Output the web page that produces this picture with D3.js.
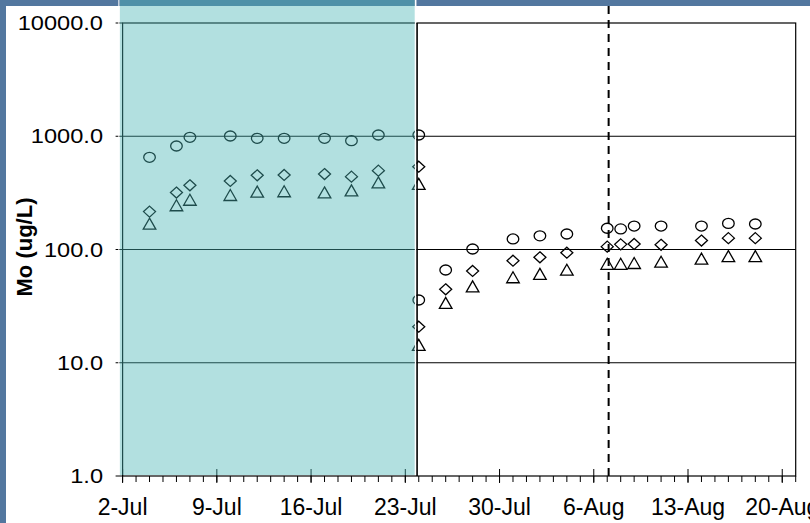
<!DOCTYPE html>
<html>
<head>
  <meta charset="utf-8">
  <title>Mo (ug/L)</title>
  <style type="text/css">
    body { margin: 0; }
    svg { display: block; font-family: "Liberation Sans", Arial, sans-serif; }
  </style>
</head>
<body>
  <svg width="810" height="523"></svg>
  <script src="https://d3js.org/d3.v7.min.js"></script>
  <script>
  // 1. data
  let dates = ["2007-07-04", "2007-07-06", "2007-07-07", "2007-07-10", "2007-07-12", "2007-07-14",
               "2007-07-17", "2007-07-19", "2007-07-21", "2007-07-24", "2007-07-24", "2007-07-26",
               "2007-07-28", "2007-07-31", "2007-08-02", "2007-08-04", "2007-08-07", "2007-08-08",
               "2007-08-09", "2007-08-11", "2007-08-14", "2007-08-16", "2007-08-18"];
  let circleVals   = [652, 820, 979, 1005, 959, 959, 959, 914, 1026, 1026, 35.8, 65.9,
                      101, 124, 132, 137, 154, 152, 161, 161, 161, 170, 168];
  let diamondVals  = [216, 318, 369, 403, 452, 455, 464, 440, 497, 539, 20.8, 44.5,
                      64.6, 79.6, 85.3, 93.7, 106, 111, 112, 110, 120, 126, 126];
  let triangleVals = [169, 246, 275, 303, 324, 327, 319, 333, 391, 380, 14.4, 33.8,
                      47.3, 56.9, 61, 66.3, 74.8, 74.8, 76, 78, 83, 87.3, 87.3];

  let yTicks = [1, 10, 100, 1000, 10000];
  let xLabels = ["2007-07-02", "2007-07-09", "2007-07-16", "2007-07-23", "2007-07-30",
                 "2007-08-06", "2007-08-13", "2007-08-20"];
  let xStart = "2007-07-02", xEnd = "2007-08-21";
  let shadeFrom = "2007-07-01T19:00", shadeTo = "2007-07-23T17:00";
  let splitDate = "2007-07-23T21:00";
  let dashDate = "2007-08-07T02:30";

  let parse = d3.isoParse;
  let svg = d3.select("svg");

  // 2. scales
  let x = d3.scaleTime().domain([parse(xStart), parse(xEnd)]).range([122.6, 795.7]);
  let y = d3.scaleLog().domain([1, 10000]).range([476, 23]);

  // background (slide) + white panel
  svg.append("rect").attr("width", 810).attr("height", 523).attr("fill", "#53779f");
  svg.append("rect").attr("x", 6).attr("y", 6).attr("width", 804).attr("height", 517).attr("fill", "#fff");

  // gridlines
  svg.append("g").selectAll("line").data(yTicks.slice(1, 4)).enter().append("line")
    .attr("x1", x.range()[0]).attr("x2", x.range()[1])
    .attr("y1", d => y(d)).attr("y2", d => y(d))
    .attr("stroke", "#000").attr("stroke-width", 1);

  // frame
  svg.append("rect")
    .attr("x", x.range()[0]).attr("y", y(10000))
    .attr("width", x.range()[1] - x.range()[0]).attr("height", y(1) - y(10000))
    .attr("fill", "none").attr("stroke", "#000").attr("stroke-width", 1.2);

  // y axis ticks + labels
  let yg = svg.append("g");
  yg.selectAll("line").data(yTicks).enter().append("line")
    .attr("x1", x.range()[0] - 7).attr("x2", x.range()[0])
    .attr("y1", d => y(d)).attr("y2", d => y(d)).attr("stroke", "#000");
  yg.selectAll("text").data(yTicks).enter().append("text")
    .attr("transform", d => "translate(103," + y(d) + ") scale(1.18,1)")
    .attr("dy", "0.36em")
    .attr("text-anchor", "end")
    .attr("font-size", 20)
    .text(d => d3.format(".1f")(d));

  // x axis: daily minor ticks, weekly crossing ticks, labels
  let days = d3.timeDay.range(parse(xStart), d3.timeDay.offset(parse(xEnd), 1));
  let xg = svg.append("g");
  xg.selectAll(".minor").data(days).enter().append("line")
    .attr("x1", d => x(d)).attr("x2", d => x(d))
    .attr("y1", y(1)).attr("y2", y(1) + 6).attr("stroke", "#000");
  xg.selectAll(".major").data(xLabels).enter().append("line")
    .attr("x1", d => x(parse(d))).attr("x2", d => x(parse(d)))
    .attr("y1", y(1) - 7).attr("y2", y(1) + 7).attr("stroke", "#000");
  xg.selectAll("text").data(xLabels).enter().append("text")
    .attr("x", d => x(parse(d))).attr("y", 515)
    .attr("text-anchor", "middle").attr("font-size", 23)
    .text(d => d3.timeFormat("%-d-%b")(parse(d)));

  // y title
  svg.append("text")
    .attr("transform", "translate(31.5," + 247 + ") rotate(-90)")
    .attr("text-anchor", "middle").attr("font-size", 22).attr("font-weight", "bold")
    .text("Mo (ug/L)");

  // 3. markers
  let pts = (vals) => vals.map((v, i) => ({ d: parse(dates[i]), v: v }));
  let mk = svg.append("g").attr("fill", "none").attr("stroke", "#000").attr("stroke-width", 1.3);

  mk.selectAll(".c").data(pts(circleVals)).enter().append("ellipse")
    .attr("cx", p => x(p.d)).attr("cy", p => y(p.v)).attr("rx", 5.8).attr("ry", 5);
  mk.selectAll(".dm").data(pts(diamondVals)).enter().append("path")
    .attr("transform", p => "translate(" + x(p.d) + "," + y(p.v) + ")")
    .attr("d", "M0,-5.5L6,0L0,5.5L-6,0Z");
  mk.selectAll(".t").data(pts(triangleVals)).enter().append("path")
    .attr("transform", p => "translate(" + x(p.d) + "," + y(p.v) + ")")
    .attr("d", "M0,-5.5L6.3,5.5L-6.3,5.5Z");

  // dashed line
  svg.append("line")
    .attr("x1", x(parse(dashDate))).attr("x2", x(parse(dashDate)))
    .attr("y1", 6).attr("y2", y(1))
    .attr("stroke", "#000").attr("stroke-width", 2).attr("stroke-dasharray", "8,6");

  // teal overlay
  let s0 = x(parse(shadeFrom)), s1 = x(parse(shadeTo));
  svg.append("rect")
    .attr("x", s0).attr("y", 0).attr("width", s1 - s0).attr("height", y(1) - 1)
    .attr("fill", "rgb(72,180,180)").attr("opacity", 0.42);
  svg.append("line").attr("x1", s0 - 1).attr("x2", s0 - 1).attr("y1", 0).attr("y2", y(1) - 1)
    .attr("stroke", "#fff").attr("stroke-width", 1.5).attr("opacity", 0.7);
  svg.append("line").attr("x1", s1 + 0.8).attr("x2", s1 + 0.8).attr("y1", 0).attr("y2", y(1) - 1)
    .attr("stroke", "#fff").attr("stroke-width", 1.6);
  svg.append("line")
    .attr("x1", x(parse(splitDate))).attr("x2", x(parse(splitDate)))
    .attr("y1", y(10000)).attr("y2", y(1))
    .attr("stroke", "#000").attr("stroke-width", 1.6);
  </script>
</body>
</html>
